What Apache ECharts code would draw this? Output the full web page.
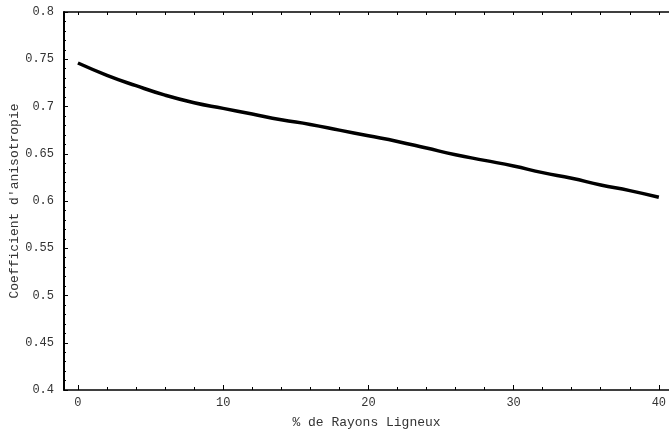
<!DOCTYPE html>
<html>
<head>
<meta charset="utf-8">
<script src="https://cdn.jsdelivr.net/npm/echarts@6/dist/echarts.min.js"></script>
<style>html,body{margin:0;padding:0;background:#fff}#c{width:669px;height:437px}</style>
</head>
<body>
<div id="c"></div>
<script>
const xValues = [0, 2, 4, 6, 8, 10, 12, 14, 16, 18, 20, 22, 24, 26, 28, 30, 32, 34, 36, 38, 40];
const yValues = [0.746, 0.733, 0.722, 0.712, 0.704, 0.698, 0.692, 0.686, 0.681, 0.675, 0.669, 0.663, 0.656, 0.649, 0.643, 0.637, 0.630, 0.624, 0.617, 0.611, 0.604];
const xTickLabels = [0, 10, 20, 30, 40];
const xMinorTicks = [0, 2, 4, 6, 8, 10, 12, 14, 16, 18, 20, 22, 24, 26, 28, 30, 32, 34, 36, 38, 40];
const xTitle = '% de Rayons Ligneux';
const yTitle = "Coefficient d'anisotropie";

const font = 'Liberation Mono';
const txt = '#333';
const xr = {min: -0.96, max: 40.7};

const chart = echarts.init(document.getElementById('c'), null, {renderer: 'canvas'});
chart.setOption({
  animation: false,
  backgroundColor: '#fff',
  grid: {left: 64, top: 12, bottom: 47, right: 0, containLabel: false, outerBoundsMode: 'none'},
  xAxis: [
    {
      type: 'value', position: 'bottom', ...xr,
      name: xTitle, nameLocation: 'middle', nameGap: 26, nameMoveOverlap: false,
      nameTextStyle: {fontFamily: font, fontSize: 13, color: txt},
      axisLine: {show: true, onZero: false, lineStyle: {color: '#000', width: 1.5}},
      axisTick: {show: true, inside: true, length: 3, customValues: xMinorTicks, lineStyle: {color: '#000'}},
      axisLabel: {show: true, customValues: xTickLabels, margin: 7, fontFamily: font, fontSize: 12, color: txt},
      splitLine: {show: false}
    },
    {
      type: 'value', position: 'bottom', ...xr,
      axisLine: {show: false, onZero: false},
      axisTick: {show: true, inside: true, length: 5, customValues: xTickLabels, lineStyle: {color: '#000'}},
      axisLabel: {show: false},
      splitLine: {show: false}
    },
    {
      type: 'value', position: 'top', ...xr,
      axisLine: {show: true, onZero: false, lineStyle: {color: '#000', width: 1.5}},
      axisTick: {show: true, inside: true, length: 3, customValues: xMinorTicks, lineStyle: {color: '#000'}},
      axisLabel: {show: false},
      splitLine: {show: false}
    }
  ],
  yAxis: {
    type: 'value', min: 0.4, max: 0.8, interval: 0.05,
    name: yTitle, nameLocation: 'middle', nameGap: 43, nameRotate: 90, nameMoveOverlap: false,
    nameTextStyle: {fontFamily: font, fontSize: 13, color: txt},
    axisLine: {show: true, onZero: false, lineStyle: {color: '#000', width: 2}},
    axisTick: {show: true, inside: true, length: 4, lineStyle: {color: '#000'}},
    minorTick: {show: true, splitNumber: 5, length: 2, lineStyle: {color: '#000'}},
    axisLabel: {margin: 10, fontFamily: font, fontSize: 12, color: txt,
      formatter: v => String(Math.round(v * 100) / 100)},
    splitLine: {show: false}
  },
  series: [{
    type: 'line', xAxisIndex: 0,
    data: xValues.map((x, i) => [x, yValues[i]]),
    smooth: true, showSymbol: false,
    lineStyle: {color: '#000', width: 3.5}
  }]
});
</script>
</body>
</html>
